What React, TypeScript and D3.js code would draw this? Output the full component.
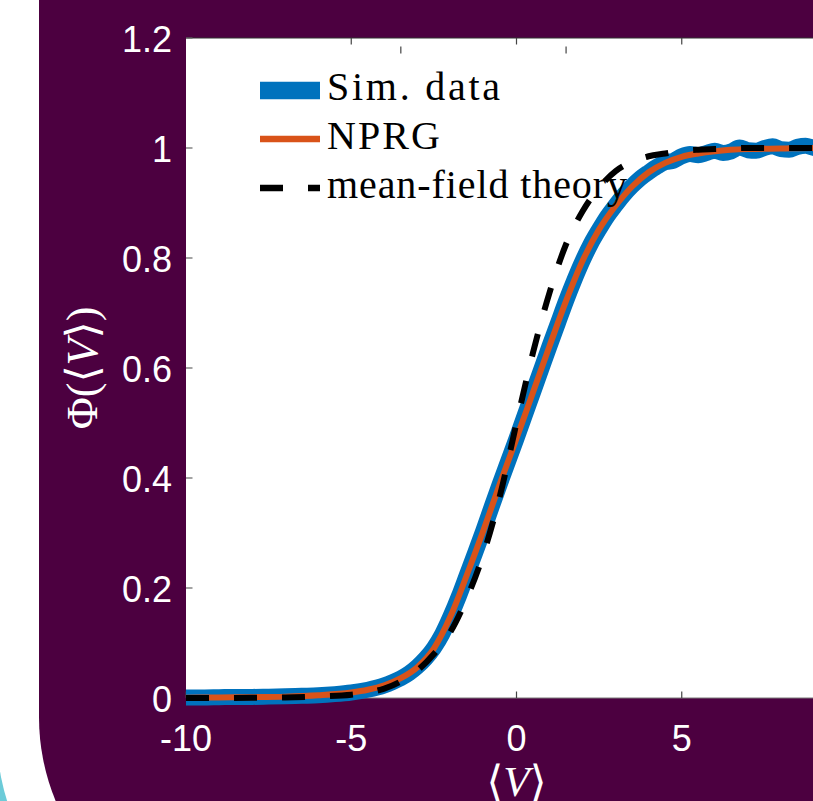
import React from "react";
import * as d3 from "d3";

const W = 813;
const H = 801;

// x values for NPRG and mean-field curves
const curveV = [-10, -9, -8, -7, -6, -5, -4.5, -4, -3.5, -3, -2.5, -2, -1.5, -1, -0.5, 0, 0.5, 1, 1.5, 2, 2.5, 3, 3.5, 4, 4.5, 5, 5.5, 6, 7, 8, 9, 10];
const nprgPhi = [0.0005, 0.001, 0.0015, 0.0025, 0.005, 0.01, 0.015, 0.023, 0.036, 0.056, 0.09, 0.148, 0.224, 0.305, 0.39, 0.472, 0.556, 0.64, 0.722, 0.795, 0.852, 0.895, 0.93, 0.956, 0.973, 0.984, 0.99, 0.994, 0.998, 0.999, 1.0, 1.0];
const mfPhi = [0.0, 0.0, 0.0005, 0.001, 0.003, 0.006, 0.01, 0.017, 0.03, 0.05, 0.08, 0.12, 0.182, 0.262, 0.368, 0.5, 0.628, 0.737, 0.825, 0.885, 0.928, 0.958, 0.975, 0.985, 0.99, 0.995, 0.997, 0.998, 1.0, 1.0, 1.0, 1.0];

// simulation data
const simV = [-10, -9.5, -9, -8.5, -8, -7.5, -7, -6.5, -6, -5.5, -5, -4.5, -4, -3.75, -3.5, -3.25, -3, -2.75, -2.5, -2.25, -2, -1.75, -1.5, -1.25, -1, -0.75, -0.5, -0.25, 0, 0.25, 0.5, 0.75, 1, 1.25, 1.5, 1.75, 2, 2.25, 2.5, 2.75, 3, 3.25, 3.5, 3.75, 4, 4.25, 4.5, 4.75, 5, 5.25, 5.5, 5.75, 6, 6.25, 6.5, 6.75, 7, 7.25, 7.5, 7.75, 8, 8.25, 8.5, 8.75, 9, 9.25, 9.5, 9.75, 10];
const simPhi = [0.001, 0.001, 0.0015, 0.002, 0.002, 0.0025, 0.003, 0.004, 0.005, 0.007, 0.01, 0.015, 0.023, 0.029, 0.036, 0.045, 0.057, 0.072, 0.091, 0.116, 0.148, 0.184, 0.224, 0.264, 0.305, 0.348, 0.39, 0.431, 0.472, 0.514, 0.556, 0.598, 0.64, 0.681, 0.722, 0.76, 0.795, 0.826, 0.852, 0.876, 0.896, 0.915, 0.931, 0.945, 0.956, 0.966, 0.974, 0.977, 0.985, 0.989, 0.987, 0.991, 0.995, 0.991, 0.994, 1.001, 0.996, 0.995, 1.0, 1.003, 0.998, 0.997, 1.002, 1.004, 1.0, 0.998, 1.004, 1.001, 1.0];

const xTicks = [-10, -5, 0, 5];
const xTickLabels = ["-10", "-5", "0", "5"];
const yTicks = [0, 0.2, 0.4, 0.6, 0.8, 1, 1.2];
const yTickLabels = ["0", "0.2", "0.4", "0.6", "0.8", "1", "1.2"];
const topTicks = [-5, 0, 5];
const ghostTicks = [-3.5, 1.5];

const legendLabels = ["Sim. data", "NPRG", "mean-field theory"];

const PURPLE = "#4c0040";
const BLUE = "#0072BD";
const ORANGE = "#D95319";
const TEAL = "#6ccbd8";

export default function App() {
  const x = d3.scaleLinear().domain([-10, 10]).range([186, 847]);
  const y = d3.scaleLinear().domain([0, 1.2]).range([698, 38]);

  const line = d3
    .line<[number, number]>()
    .x((d) => x(d[0]))
    .y((d) => y(d[1]))
    .curve(d3.curveMonotoneX);

  const simPath = line(simV.map((v, i) => [v, simPhi[i]]))!;
  const nprgPath = line(curveV.map((v, i) => [v, nprgPhi[i]]))!;
  const mfPath = line(curveV.map((v, i) => [v, mfPhi[i]]))!;

  const top = y(1.2);
  const bottom = y(0);
  const left = x(-10);

  const tickFont = "'Liberation Sans', Arial, Helvetica, sans-serif";
  const serif = "'Liberation Serif', 'DejaVu Serif', serif";

  const legendY = [90.5, 139, 188];
  const legendTextW = [173, 113, 300];

  return (
    <svg
      width={W}
      height={H}
      viewBox={`0 0 ${W} ${H}`}
      style={{ position: "fixed", left: 0, top: 0, display: "block" }}
    >
      <rect x={0} y={0} width={W} height={H} fill="#ffffff" />
      {/* teal slide corner behind */}
      <rect x={0} y={700} width={60} height={101} fill={TEAL} />
      <circle cx={217} cy={735} r={220} fill="#ffffff" />
      {/* purple panel */}
      <rect x={39} y={-300} width={1100} height={1237} rx={220} ry={220} fill={PURPLE} />

      {/* plot area */}
      <rect x={left} y={top} width={W - left} height={bottom - top} fill="#ffffff" />
      <line x1={left} x2={W} y1={top} y2={top} stroke="#333" strokeWidth={1.2} />
      <line x1={left} x2={W} y1={bottom} y2={bottom} stroke="#7a7a7a" strokeWidth={1.2} />

      {yTicks.map((t) => (
        <line key={"yt" + t} x1={left} x2={left + 6.5} y1={y(t)} y2={y(t)} stroke="#666" strokeWidth={1.2} />
      ))}
      {xTicks.map((t) => (
        <line key={"xt" + t} x1={x(t)} x2={x(t)} y1={bottom} y2={bottom - 6.5} stroke="#444" strokeWidth={1.2} />
      ))}
      {topTicks.map((t) => (
        <line key={"tt" + t} x1={x(t)} x2={x(t)} y1={top} y2={top + 6.5} stroke="#444" strokeWidth={1.2} />
      ))}
      {ghostTicks.map((t) => (
        <line key={"gt" + t} x1={x(t)} x2={x(t)} y1={top + 8.5} y2={top + 15.5} stroke="#444" strokeWidth={1.2} />
      ))}

      {/* curves */}
      <path d={simPath} fill="none" stroke={BLUE} strokeWidth={16} strokeLinejoin="round" />
      <path d={nprgPath} fill="none" stroke={ORANGE} strokeWidth={6} strokeLinejoin="round" />
      <path d={mfPath} fill="none" stroke="#000" strokeWidth={6} strokeDasharray="23,25" />

      {/* y tick labels */}
      {yTicks.map((t, i) => (
        <text
          key={"yl" + t}
          x={172}
          y={y(t) + 14}
          fill="#fff"
          fontFamily={tickFont}
          fontSize={36}
          textAnchor="end"
        >
          {yTickLabels[i]}
        </text>
      ))}
      {/* x tick labels */}
      {xTicks.map((t, i) => (
        <text
          key={"xl" + t}
          x={x(t)}
          y={751}
          fill="#fff"
          fontFamily={tickFont}
          fontSize={36}
          textAnchor="middle"
        >
          {xTickLabels[i]}
        </text>
      ))}

      {/* axis labels */}
      <text
        transform={`translate(96.5, ${(top + bottom) / 2}) rotate(-90)`}
        fill="#fff"
        fontFamily={serif}
        fontSize={44}
        textAnchor="middle"
      >
        Φ(⟨<tspan fontStyle="italic">V</tspan>⟩)
      </text>
      <text
        x={x(0)}
        y={796}
        fill="#fff"
        fontFamily={serif}
        fontSize={43}
        textAnchor="middle"
      >
        ⟨<tspan fontStyle="italic">V</tspan>⟩
      </text>

      {/* legend */}
      <line x1={260} x2={320} y1={legendY[0]} y2={legendY[0]} stroke={BLUE} strokeWidth={17.5} />
      <line x1={260} x2={320} y1={legendY[1]} y2={legendY[1]} stroke={ORANGE} strokeWidth={6.5} />
      <line x1={260} x2={320} y1={legendY[2]} y2={legendY[2]} stroke="#000" strokeWidth={6.5} strokeDasharray="23,25" />
      {legendLabels.map((l, i) => (
        <text
          key={l}
          x={327}
          y={legendY[i] + 9.5}
          fill="#000"
          fontFamily={serif}
          fontSize={40}
          textLength={legendTextW[i]}
          lengthAdjust="spacing"
        >
          {l}
        </text>
      ))}
    </svg>
  );
}
